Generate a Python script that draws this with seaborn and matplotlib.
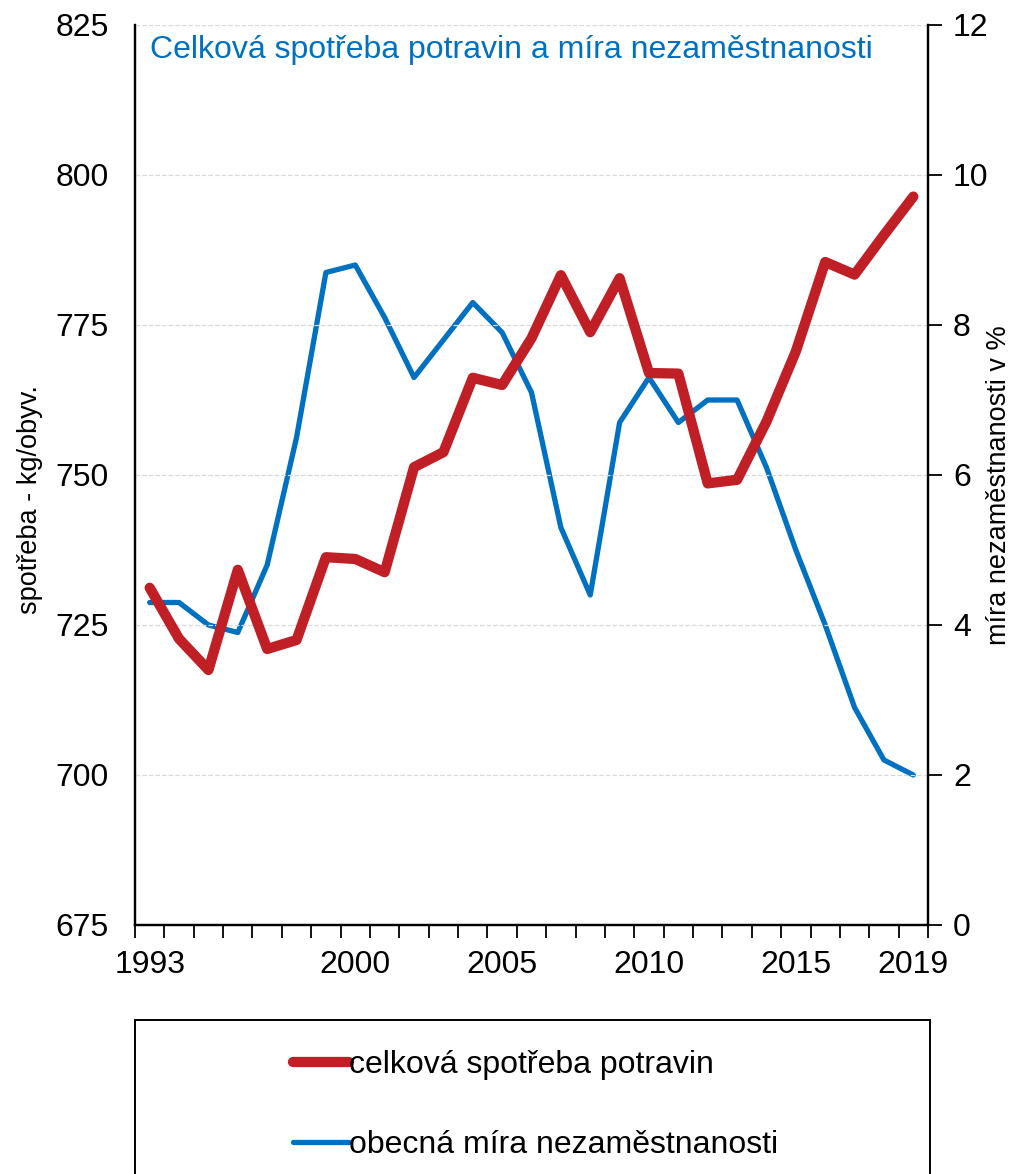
import numpy as np
import pandas as pd
import seaborn as sns
import matplotlib.pyplot as plt
from matplotlib.patches import Rectangle
from matplotlib.ticker import MultipleLocator, FixedLocator

years = list(range(1993, 2020))
spotreba = [731.2, 722.7, 717.5, 734.2, 721.0, 722.5, 736.3, 736.0, 733.8,
            751.3, 753.8, 766.2, 765.0, 772.8, 783.3, 773.8, 782.8, 767.0,
            766.9, 748.6, 749.2, 758.9, 770.6, 785.5, 783.4, 790.0, 796.4]
nezamestnanost = [4.3, 4.3, 4.0, 3.9, 4.8, 6.5, 8.7, 8.8, 8.1, 7.3, 7.8, 8.3,
                  7.9, 7.1, 5.3, 4.4, 6.7, 7.3, 6.7, 7.0, 7.0, 6.1, 5.0, 4.0,
                  2.9, 2.2, 2.0]
label_years = [1993, 2000, 2005, 2010, 2015, 2019]

df = pd.DataFrame({'rok': years, 'spotreba': spotreba, 'nezam': nezamestnanost})

sns.set_style('white')
plt.rcParams['font.family'] = ['Liberation Sans', 'DejaVu Sans']
plt.rcParams['text.color'] = 'black'
plt.rcParams['xtick.color'] = 'black'
plt.rcParams['ytick.color'] = 'black'

red = '#C01F26'
blue = '#0070C0'

fig = plt.figure(figsize=(10.14, 11.74), dpi=100)
ax = fig.add_axes([135 / 1014, 249 / 1174, 793 / 1014, 900 / 1174])
ax2 = ax.twinx()

sns.lineplot(data=df, x='rok', y='spotreba', ax=ax, color=red, linewidth=7.4,
             solid_capstyle='round', solid_joinstyle='round',
             label='celková spotřeba potravin', legend=False, zorder=3)
sns.lineplot(data=df, x='rok', y='nezam', ax=ax2, color=blue, linewidth=3.8,
             solid_capstyle='round', solid_joinstyle='round',
             label='obecná míra nezaměstnanosti', legend=False)

ax.set_zorder(ax2.get_zorder() + 1)
ax.patch.set_visible(False)

ax.set_xlim(1992.5, 2019.5)
ax.set_ylim(675, 825)
ax2.set_ylim(0, 12)
ax.yaxis.set_major_locator(MultipleLocator(25))
ax2.yaxis.set_major_locator(MultipleLocator(2))
ax.xaxis.set_major_locator(FixedLocator(label_years))
ax.xaxis.set_minor_locator(FixedLocator(np.arange(1992.5, 2020, 1)))

ax.grid(axis='y', color='#d9d9d9', linestyle='--', linewidth=0.9)
ax.grid(axis='x', visible=False)
ax2.grid(False)

for a in (ax, ax2):
    a.spines['top'].set_visible(False)
    for s in ('left', 'right', 'bottom'):
        a.spines[s].set_color('black')
        a.spines[s].set_linewidth(1.6)

ax.tick_params(axis='x', which='major', length=0, labelsize=23, pad=18)
ax.tick_params(axis='x', which='minor', length=9, width=1.3, direction='out', bottom=True)
ax.tick_params(axis='y', length=0, left=False, labelsize=23, pad=19)
ax2.tick_params(axis='y', length=10, width=1.3, direction='out', right=True, labelsize=23, pad=8)

ax.set_xlabel('')
ax.set_ylabel('')
ax2.set_ylabel('')
fig.text(30 / 1014, 1 - 500 / 1174, 'spotřeba - kg/obyv.', rotation=90,
         ha='center', va='center', fontsize=19.5)
fig.text(999 / 1014, 1 - 485 / 1174, 'míra nezaměstnanosti v %', rotation=90,
         ha='center', va='center', fontsize=19.5)

ax.text(0.019, 0.989, 'Celková spotřeba potravin a míra nezaměstnanosti',
        transform=ax.transAxes, color=blue, fontsize=23, va='top', ha='left')

# legend box below the plot
fig.patches.append(Rectangle((135 / 1014, -0.05), 795 / 1014, (1174 - 1020) / 1174 + 0.05,
                             transform=fig.transFigure, fill=False,
                             edgecolor='black', linewidth=1.4))
h1, l1 = ax.get_legend_handles_labels()
h2, l2 = ax2.get_legend_handles_labels()
fig.legend(h1 + h2, l1 + l2, loc='center left', bbox_to_anchor=(264 / 1014, 1 - 1105 / 1174),
           frameon=False, fontsize=23, handlelength=1.75, handletextpad=0.0,
           labelspacing=1.58)

fig.savefig('out.png', dpi=100)
